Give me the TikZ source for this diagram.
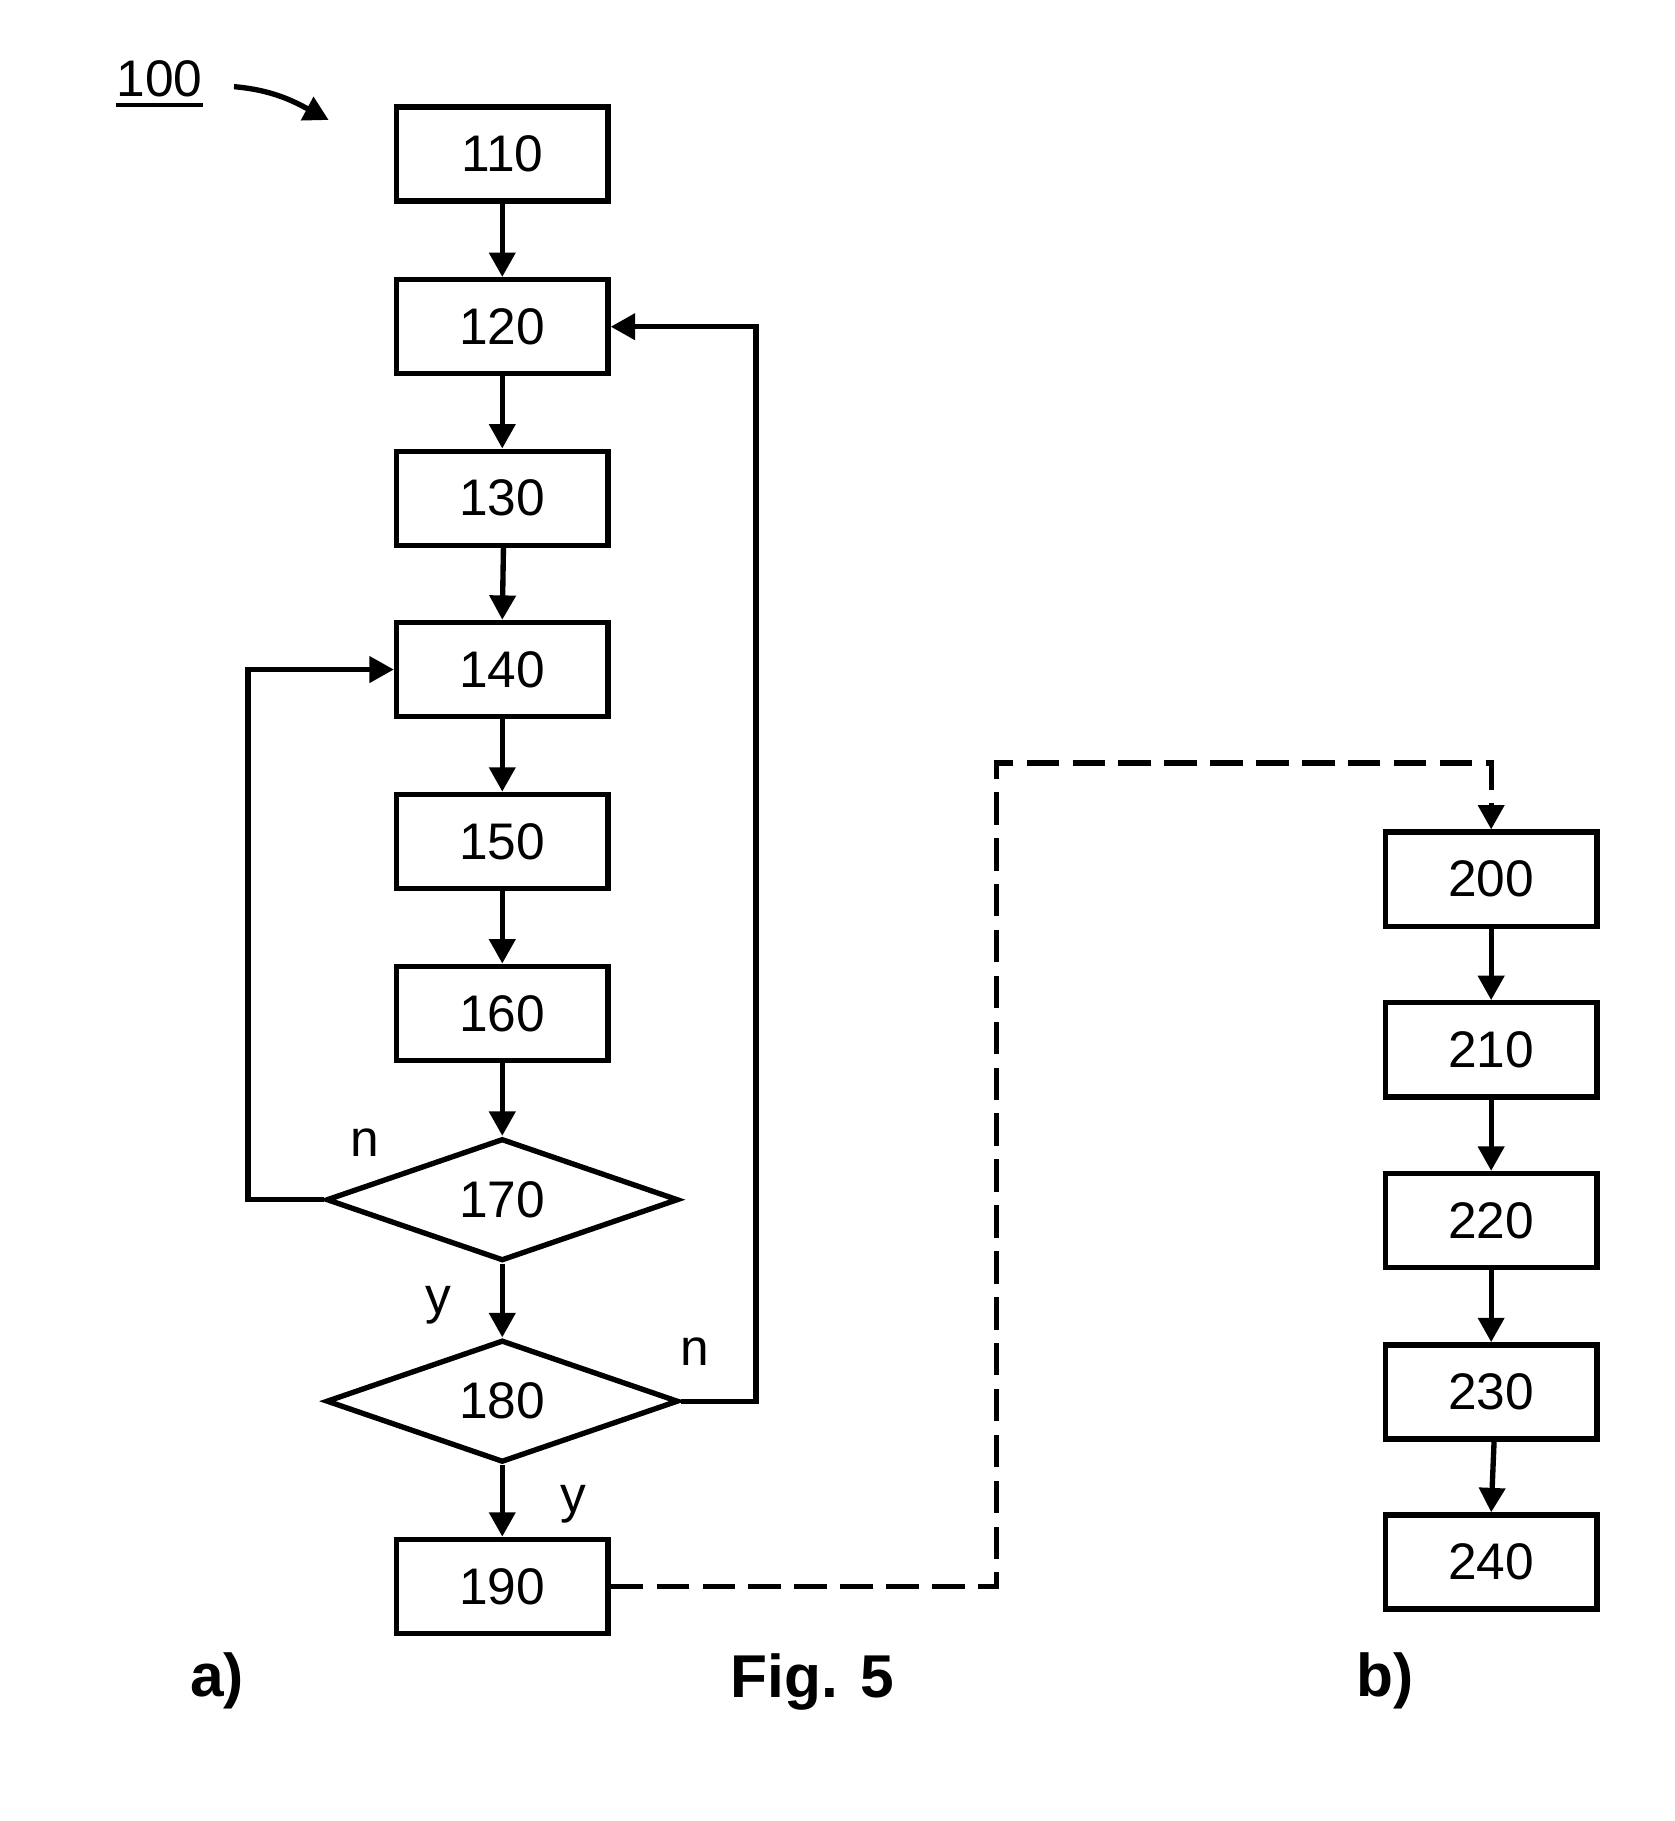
\documentclass[tikz,border=0pt]{standalone}
\usepackage{fontspec}
\setmainfont{Liberation Sans}
\usetikzlibrary{arrows.meta,shapes.geometric}
\begin{document}
\begin{tikzpicture}[x=0.01cm,y=-0.01cm,
  lw/.style={line width=0.046cm},
  numfont/.style={font=\fontsize{12.6}{15}\selectfont},
  stepbox/.style={draw,lw,numfont,minimum width=1.82cm,minimum height=0.81cm,inner sep=0pt},
  decision/.style={draw,lw,numfont,diamond,minimum width=3.03cm,minimum height=1.05cm,inner sep=0pt},
  arr/.style={lw,-{Triangle[length=0.21cm,width=0.22cm]}},
  dashedarr/.style={arr,dash pattern=on 0.28cm off 0.115cm},
  lbl/.style={numfont,inner sep=0pt,anchor=base},
  captext/.style={font=\bfseries\fontsize{14.8}{18}\selectfont,inner sep=0pt,anchor=base}]
\useasboundingbox (0,0) rectangle (1442,1568);

% left column
\node[stepbox] (n110) at (432.5,132.6) {110};
\node[stepbox] (n120) at (432.5,281.3) {120};
\node[stepbox] (n130) at (432.5,429) {130};
\node[stepbox] (n140) at (432.5,576.5) {140};
\node[stepbox] (n150) at (432.5,724.5) {150};
\node[stepbox] (n160) at (432.5,872.5) {160};
\node[decision] (n170) at (432.5,1033) {170};
\node[decision] (n180) at (432.5,1206.5) {180};
\node[stepbox] (n190) at (432.5,1366) {190};

% right column
\node[stepbox] (n200) at (1284,757) {200};
\node[stepbox] (n210) at (1284,904) {210};
\node[stepbox] (n220) at (1284,1051) {220};
\node[stepbox] (n230) at (1284,1198.5) {230};
\node[stepbox] (n240) at (1284,1345) {240};

% reference label
\node[lbl] (n100) at (137.5,83) {100};
\draw[line width=0.029cm] ([yshift=-0.074cm]n100.base west) -- ([yshift=-0.074cm]n100.base east);
\coordinate (a0) at (201.5,74.6);
\coordinate (a1) at (283,103.3);
\draw[arr] (a0) to[out=-5,in=152] (a1);

% straight connectors
\draw[arr] (n110.south) -- (n120.north);
\draw[arr] (n120.south) -- (n130.north);
\draw[arr] ([xshift=0.01cm]n130.south) -- (n140.north);
\draw[arr] (n140.south) -- (n150.north);
\draw[arr] (n150.south) -- (n160.north);
\draw[arr] (n160.south) -- (n170.north);
\draw[arr] (n170.south) -- (n180.north);
\draw[arr] (n180.south) -- (n190.north);

\draw[arr] (n200.south) -- (n210.north);
\draw[arr] (n210.south) -- (n220.north);
\draw[arr] (n220.south) -- (n230.north);
\draw[arr] ([xshift=0.025cm]n230.south) -- (n240.north);

% loops
\draw[arr] (n170.west) -- ++(-65,0) |- (n140.west);
\draw[arr] (n180.east) -- ++(64.5,0) |- (n120.east);

% dashed link
\coordinate (dc) at (858,657);
\draw[dashedarr] (n190.east) -| (dc) -| (n200.north);

% branch labels
\node[lbl] (ln1) at (314,996) {n};
\node[lbl] (ly1) at (377.5,1131) {y};
\node[lbl] (ln2) at (598,1176) {n};
\node[lbl] (ly2) at (493.5,1302) {y};

% captions
\node[captext] (ca) at (187,1461) {a)};
\node[captext] (cfig) at (699.5,1462) {Fig. 5};
\node[captext] (cb) at (1193,1461) {b)};
\end{tikzpicture}
\end{document}
